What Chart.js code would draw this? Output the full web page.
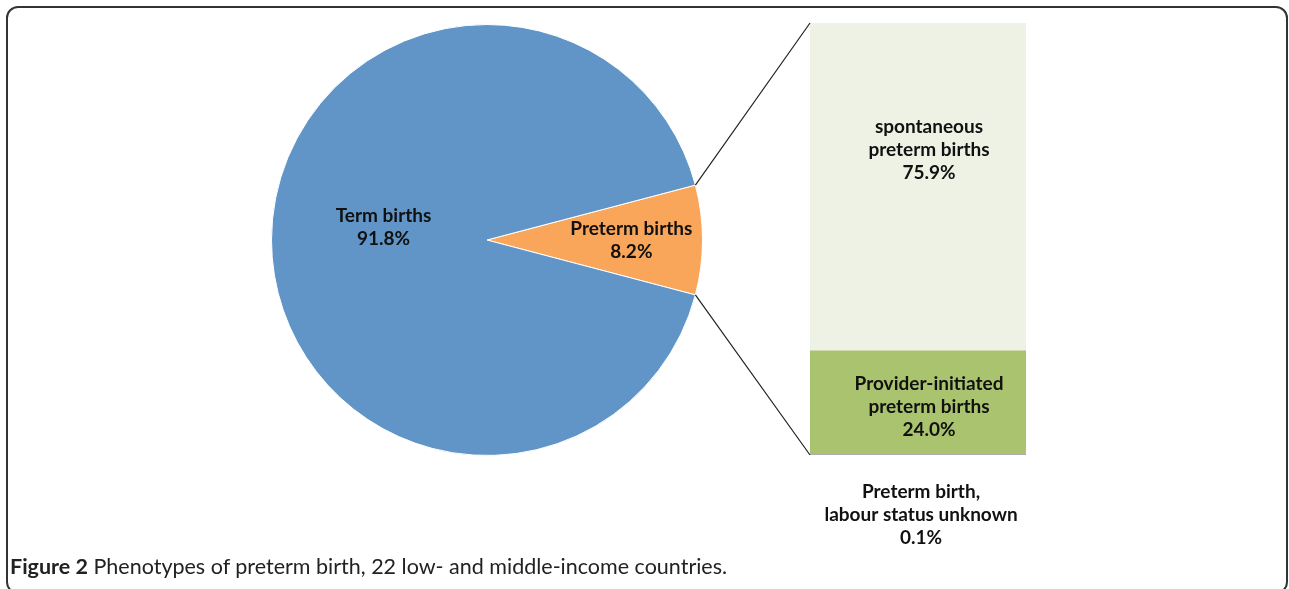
<!DOCTYPE html>
<html>
<head>
<meta charset="utf-8">
<script src="https://cdn.jsdelivr.net/npm/chart.js@4/dist/chart.umd.min.js"></script>
<style>
  body { margin: 0; background: #fff; width: 1289px; height: 589px; overflow: hidden; position: relative; font-family: Lato, sans-serif; }
  .frame { position: absolute; left: 6px; top: 6px; width: 1282px; height: 588px; border: 2px solid #333; border-radius: 12px; box-sizing: border-box; }
  #pieChart { position: absolute; left: 271px; top: 24px; }
  #barChart { position: absolute; left: 810px; top: 23px; }
  #lines { position: absolute; left: 0; top: 0; pointer-events: none; }
  .caption { position: absolute; left: 10px; top: 553px; font-size: 21.5px; color: #222; white-space: nowrap; }
</style>
</head>
<body>
<div class="frame"></div>
<canvas id="pieChart" width="432" height="432"></canvas>
<canvas id="barChart" width="216" height="432"></canvas>
<canvas id="lines" width="1289" height="589"></canvas>
<div class="caption"><b>Figure 2</b> Phenotypes of preterm birth, 22 low- and middle-income countries.</div>

<script>
// pie: term vs preterm
const pieLabels = [["Preterm births"], ["Term births"]];
const pieValues = [8.2, 91.8];
const pieColors = ["#F9A65A", "#6195C8"];

// bar of pie: preterm phenotypes (bottom to top)
const barLabels = [["Preterm birth,", "labour status unknown"], ["Provider-initiated", "preterm births"], ["spontaneous", "preterm births"]];
const barValues = [0.1, 24.0, 75.9];
const barColors = ["#B3A2C7", "#AAC36E", "#EEF2E4"];

const labelFont = "bold 19px Lato, 'Open Sans', sans-serif";
const lineH = 23;

function drawBlock(ctx, lines, x, y) {
  ctx.save();
  ctx.font = labelFont;
  ctx.fillStyle = "#111";
  ctx.textAlign = "center";
  ctx.textBaseline = "middle";
  const top = y - (lines.length - 1) * lineH / 2;
  lines.forEach((t, i) => ctx.fillText(t, x, top + i * lineH));
  ctx.restore();
}

// preterm slice is centred on the 3 o'clock direction
const pieTotal = pieValues.reduce((a, b) => a + b, 0);
const pieRotation = 90 - (pieValues[0] / pieTotal * 360) / 2;
const labelRadius = [0.67, 0.48];

const pieLabelPlugin = {
  id: "pieLabels",
  afterDatasetsDraw(chart) {
    const ctx = chart.ctx;
    chart.getDatasetMeta(0).data.forEach((arc, i) => {
      const mid = (arc.startAngle + arc.endAngle) / 2;
      const r = arc.outerRadius * labelRadius[i];
      const x = arc.x + Math.cos(mid) * r;
      const y = arc.y + Math.sin(mid) * r - (i === 1 ? 13 : 0);
      drawBlock(ctx, pieLabels[i].concat([pieValues[i].toFixed(1) + "%"]), x, y);
    });
  }
};

const pie = new Chart(document.getElementById("pieChart"), {
  type: "pie",
  data: {
    labels: pieLabels.map(l => l.join(" ")),
    datasets: [{ data: pieValues, backgroundColor: pieColors, borderColor: "#fff", borderWidth: 1 }]
  },
  options: {
    responsive: false,
    animation: false,
    rotation: pieRotation,
    layout: { padding: 0 },
    plugins: { legend: { display: false }, tooltip: { enabled: false } }
  },
  plugins: [pieLabelPlugin]
});

const barLabelShift = [[0, 0], [11, 4], [11, -37]];

const barLabelPlugin = {
  id: "barLabels",
  afterDatasetsDraw(chart) {
    const ctx = chart.ctx;
    chart.data.datasets.forEach((ds, i) => {
      if (i === 0) return; // too thin, drawn below the bar
      const bar = chart.getDatasetMeta(i).data[0];
      const cy = (bar.y + bar.base) / 2;
      drawBlock(ctx, barLabels[i].concat([barValues[i].toFixed(1) + "%"]), bar.x + barLabelShift[i][0], cy + barLabelShift[i][1]);
    });
  }
};

const bar = new Chart(document.getElementById("barChart"), {
  type: "bar",
  data: {
    labels: ["Preterm births"],
    datasets: barValues.map((v, i) => ({
      label: barLabels[i].join(" "),
      data: [v],
      backgroundColor: barColors[i],
      barPercentage: 1,
      categoryPercentage: 1
    }))
  },
  options: {
    responsive: false,
    animation: false,
    layout: { padding: 0 },
    scales: {
      x: { stacked: true, display: false },
      y: { stacked: true, display: false, min: 0, max: 100 }
    },
    plugins: { legend: { display: false }, tooltip: { enabled: false } }
  },
  plugins: [barLabelPlugin]
});

// connector lines + label of the tiny segment
const lc = document.getElementById("lines");
const lctx = lc.getContext("2d");
const pc = document.getElementById("pieChart");
const bc = document.getElementById("barChart");
const arc = pie.getDatasetMeta(0).data[0];
const px = pc.offsetLeft, py = pc.offsetTop;
const bx = bc.offsetLeft + bar.chartArea.left;
const bTop = bc.offsetTop + bar.scales.y.getPixelForValue(100);
const bBot = bc.offsetTop + bar.scales.y.getPixelForValue(0);
lctx.strokeStyle = "#222";
lctx.lineWidth = 1.2;
lctx.beginPath();
lctx.moveTo(px + arc.x + Math.cos(arc.startAngle) * arc.outerRadius, py + arc.y + Math.sin(arc.startAngle) * arc.outerRadius);
lctx.lineTo(bx, bTop);
lctx.moveTo(px + arc.x + Math.cos(arc.endAngle) * arc.outerRadius, py + arc.y + Math.sin(arc.endAngle) * arc.outerRadius);
lctx.lineTo(bx, bBot);
lctx.stroke();

const ub = bar.getDatasetMeta(0).data[0];
drawBlock(lctx, barLabels[0].concat([barValues[0].toFixed(1) + "%"]), bc.offsetLeft + ub.x + 3, bBot + 60);
</script>
</body>
</html>
